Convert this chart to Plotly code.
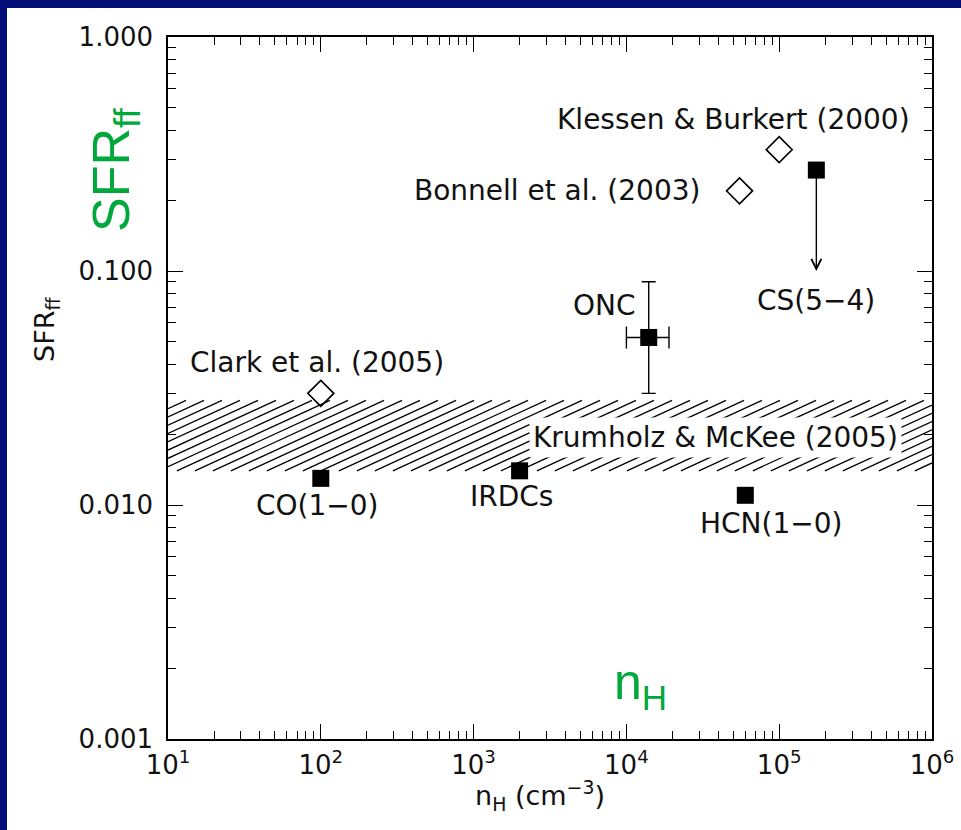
import numpy as np
import plotly.graph_objects as go

# ---------------- data ----------------
obs_names = ["CO(1\u22120)", "IRDCs", "ONC", "HCN(1\u22120)", "CS(5\u22124)"]
obs_nH = [1.0e2, 2.0e3, 1.4e4, 6.0e4, 1.75e5]
obs_sfr = [0.013, 0.014, 0.052, 0.011, 0.27]

onc_nH_err_plus = 5.0e3
onc_nH_err_minus = 4.0e3
onc_sfr_err_plus = 0.038
onc_sfr_err_minus = 0.022

cs_limit_to = 0.10  # CS(5-4) is an upper limit, arrow down to this value

sim_names = ["Klessen & Burkert (2000)", "Bonnell et al. (2003)", "Clark et al. (2005)"]
sim_nH = [1.0e5, 5.5e4, 1.0e2]
sim_sfr = [0.33, 0.22, 0.030]

km_name = "Krumholz & McKee (2005)"
km_band = [0.014, 0.028]

x_range = [1e1, 1e6]
y_range = [1e-3, 1e0]
x_tickvals = [1e1, 1e2, 1e3, 1e4, 1e5, 1e6]
x_ticktext = ["10<sup>1</sup>", "10<sup>2</sup>", "10<sup>3</sup>",
              "10<sup>4</sup>", "10<sup>5</sup>", "10<sup>6</sup>"]
y_tickvals = [1.0, 0.1, 0.01, 0.001]
y_ticktext = ["1.000", "0.100", "0.010", "0.001"]

# ---------------- layout constants ----------------
W, H = 961, 830
ML, MR, MT, MB = 168, 29, 37, 91
PW, PH = W - ML - MR, H - MT - MB
FONT = "DejaVu Sans"
GREEN = "#00a83c"
BLUE = "#000f78"

lx0, lx1 = np.log10(x_range)
ly0, ly1 = np.log10(y_range)
px_dec_x = PW / (lx1 - lx0)
px_dec_y = PH / (ly1 - ly0)

fig = go.Figure()

# ---------------- hatched band (Krumholz & McKee) ----------------
b0, b1 = np.log10(km_band)
hatch_slope_px = 0.46      # rise/run of hatch lines in pixels
hatch_spacing_px = 18.0    # horizontal spacing of hatch lines in pixels
span = (b1 - b0) * px_dec_y / hatch_slope_px / px_dec_x
step = hatch_spacing_px / px_dec_x
hx, hy = [], []
xb = lx0 - span
while xb < lx1:
    t0 = max(0.0, (lx0 - xb) / span)
    t1 = min(1.0, (lx1 - xb) / span)
    if t1 > t0:
        for t in (t0, t1):
            hx.append(10 ** (xb + t * span))
            hy.append(10 ** (b0 + t * (b1 - b0)))
        hx.append(None)
        hy.append(None)
    xb += step
fig.add_trace(go.Scatter(x=hx, y=hy, mode="lines",
                         line=dict(color="black", width=1.3),
                         hoverinfo="skip"))

# ---------------- simulations: open diamonds ----------------
fig.add_trace(go.Scatter(x=sim_nH, y=sim_sfr, mode="markers",
                         marker=dict(symbol="diamond-open", size=20, color="black",
                                     line=dict(width=1.6, color="black"))))

# ---------------- observations: filled squares ----------------
onc_i = obs_names.index("ONC")
other = [i for i in range(len(obs_names)) if i != onc_i]
fig.add_trace(go.Scatter(x=[obs_nH[i] for i in other], y=[obs_sfr[i] for i in other],
                         mode="markers",
                         marker=dict(symbol="square", size=17, color="black")))
fig.add_trace(go.Scatter(x=[obs_nH[onc_i]], y=[obs_sfr[onc_i]], mode="markers",
                         marker=dict(symbol="square", size=17, color="black"),
                         error_x=dict(type="data", symmetric=False,
                                      array=[onc_nH_err_plus], arrayminus=[onc_nH_err_minus],
                                      color="black", thickness=1.4, width=11),
                         error_y=dict(type="data", symmetric=False,
                                      array=[onc_sfr_err_plus], arrayminus=[onc_sfr_err_minus],
                                      color="black", thickness=1.4, width=7)))

annotations = []
# CS(5-4) upper-limit arrow
cs_i = obs_names.index("CS(5\u22124)")
annotations.append(dict(x=np.log10(obs_nH[cs_i]), y=np.log10(cs_limit_to),
                        ax=np.log10(obs_nH[cs_i]), ay=np.log10(obs_sfr[cs_i]),
                        xref="x", yref="y", axref="x", ayref="y",
                        showarrow=True, arrowhead=5, arrowsize=1.4, arrowwidth=1.4,
                        arrowcolor="black", text=""))

TF = dict(family=FONT, size=28, color="#111111")

def lab(text, x, y, xs=0, ys=0, xanchor="center", **kw):
    d = dict(text=text, x=np.log10(x), y=np.log10(y), xref="x", yref="y",
             xshift=xs, yshift=ys, xanchor=xanchor, yanchor="middle",
             showarrow=False, font=TF)
    d.update(kw)
    annotations.append(d)

# observation labels
lab(obs_names[0], obs_nH[0], obs_sfr[0], -3, -27)
lab(obs_names[1], obs_nH[1], obs_sfr[1], -8, -26)
lab(obs_names[2], obs_nH[2], obs_sfr[2], -11, 32, xanchor="right")
lab(obs_names[3], obs_nH[3], obs_sfr[3], 26, -28)
lab(obs_names[4], obs_nH[4], cs_limit_to, 0, -29)
# simulation labels
lab(sim_names[0], sim_nH[0], sim_sfr[0], 133, 30, xanchor="right")
lab(sim_names[1], sim_nH[1], sim_sfr[1], -38, 0, xanchor="right")
lab(sim_names[2], sim_nH[2], sim_sfr[2], -4, 31)
# band label with white background
annotations.append(dict(text=km_name, x=(715 - ML) / PW, xref="paper",
                        y=np.log10(np.sqrt(km_band[0] * km_band[1])), yref="y",
                        yshift=-2, showarrow=False, font=TF, bgcolor="white",
                        borderpad=3, xanchor="center", yanchor="middle"))

# axis titles
annotations.append(dict(text="SFR<sub>ff</sub>", textangle=-90, xref="paper", yref="paper",
                        x=(46 - ML) / PW, y=(H - MB - 330) / PH, showarrow=False,
                        font=dict(family=FONT, size=27, color="#111111"),
                        xanchor="center", yanchor="middle"))
annotations.append(dict(text="n<sub>H</sub> (cm<sup>\u22123</sup>)", xref="paper", yref="paper",
                        x=(540 - ML) / PW, y=(H - MB - 795) / PH, showarrow=False,
                        font=dict(family=FONT, size=27, color="#111111"),
                        xanchor="center", yanchor="middle"))
# big green overlay labels
annotations.append(dict(text="SFR<sub>ff</sub>", textangle=-90, xref="paper", yref="paper",
                        x=(115 - ML) / PW, y=(H - MB - 170) / PH, showarrow=False,
                        font=dict(family="Liberation Sans", size=52, color=GREEN),
                        xanchor="center", yanchor="middle"))
annotations.append(dict(text="n<sub>H</sub>", xref="paper", yref="paper",
                        x=(640 - ML) / PW, y=(H - MB - 685) / PH, showarrow=False,
                        font=dict(family="Liberation Sans", size=50, color=GREEN),
                        xanchor="center", yanchor="middle"))

# blue slide border strips (top and left)
shapes = [
    dict(type="rect", xref="paper", yref="paper", x0=(0 - ML) / PW, x1=(7 - ML) / PW,
         y0=(H - MB - H) / PH, y1=(H - MB) / PH, fillcolor=BLUE, line=dict(width=0)),
    dict(type="rect", xref="paper", yref="paper", x0=(0 - ML) / PW, x1=(W - ML) / PW,
         y0=(H - MB - 8) / PH, y1=(H - MB) / PH, fillcolor=BLUE, line=dict(width=0)),
]

x_minor = [k * 10 ** d for d in range(int(lx0), int(lx1)) for k in range(2, 10)]
y_minor = [k * 10 ** d for d in range(int(ly0), int(ly1)) for k in range(2, 10)]

axis_common = dict(type="log", showline=True, linecolor="black", linewidth=1.5,
                   mirror="ticks", ticks="inside", ticklen=15, tickwidth=1.3,
                   tickcolor="black", showgrid=False, zeroline=False,
                   tickfont=dict(family=FONT, size=26, color="#111111"))

fig.update_xaxes(range=[lx0, lx1], tickvals=x_tickvals, ticktext=x_ticktext,
                 minor=dict(ticks="inside", ticklen=8, tickwidth=1.3, tickcolor="black",
                            tickvals=x_minor, showgrid=False),
                 ticklabelstandoff=2, **axis_common)
fig.update_yaxes(range=[ly0, ly1], tickvals=y_tickvals, ticktext=y_ticktext,
                 minor=dict(ticks="inside", ticklen=8, tickwidth=1.3, tickcolor="black",
                            tickvals=y_minor, showgrid=False),
                 ticklabelstandoff=8, **axis_common)

fig.update_layout(width=W, height=H, margin=dict(l=ML, r=MR, t=MT, b=MB, autoexpand=False),
                  paper_bgcolor="white", plot_bgcolor="white", showlegend=False,
                  font=dict(family=FONT, color="black"),
                  annotations=annotations, shapes=shapes)

fig.write_html("out.html")
